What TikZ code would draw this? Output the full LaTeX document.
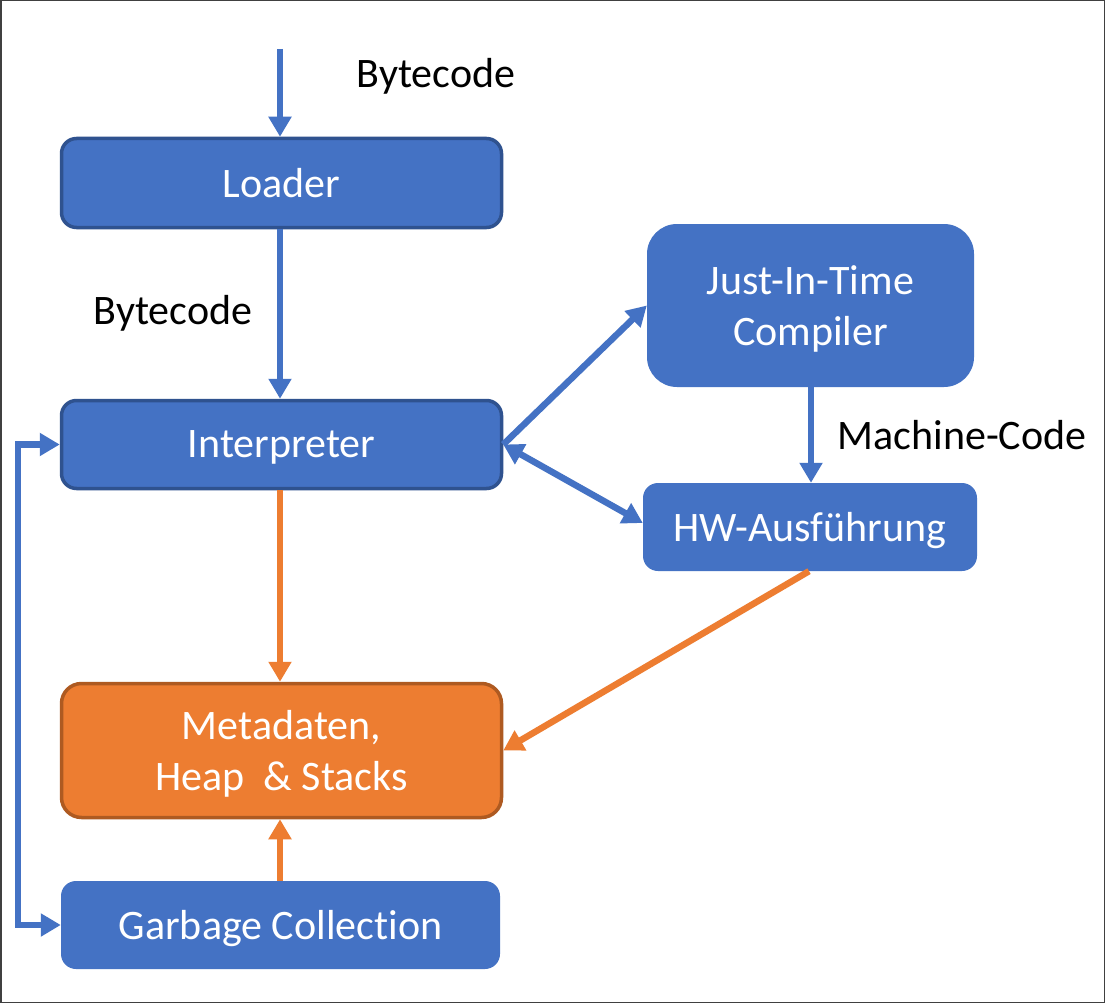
\documentclass[tikz,border=0pt]{standalone}
\usepackage{fontspec}
\setmainfont[Ligatures=NoCommon]{Carlito}
\usetikzlibrary{arrows.meta}
\definecolor{cblue}{HTML}{4472C4}
\definecolor{cblueb}{HTML}{2F528F}
\definecolor{corange}{HTML}{ED7D31}
\definecolor{coranb}{HTML}{AE5A21}
\tikzset{
  boxbase/.style={rectangle, text=white, align=center, inner sep=0pt,
    font=\fontsize{42}{51}\selectfont, text depth=0pt},
  bluebox/.style={boxbase, fill=cblue, draw=cblueb, line width=3.5pt, rounded corners=15pt},
  plainbox/.style={boxbase, fill=cblue, rounded corners=15pt},
  orangebox/.style={boxbase, fill=corange, draw=coranb, line width=3.5pt, rounded corners=20pt},
  lbl/.style={text=black, font=\fontsize{42}{51}\selectfont, inner sep=0pt, text depth=0pt},
  tip/.tip={Triangle[width=22pt,length=20pt]},
  barrow/.style={draw=cblue, line width=6.5pt, -tip},
  oarrow/.style={draw=corange, line width=6.5pt, -tip},
}
\begin{document}
\begin{tikzpicture}[x=1pt,y=-1pt]
\path[fill=white, draw=black!75, line width=1.5pt] (0.75,0.75) rectangle (1104.25,1002.25);
\useasboundingbox (0,0) rectangle (1105,1003);

\node[bluebox, minimum width=440pt, minimum height=89pt] (loader) at (281.5,183) {Loader};
\node[bluebox, minimum width=440pt, minimum height=88pt] (interp) at (281.5,444.5) {Interpreter};
\node[plainbox, rounded corners=30pt, minimum width=327pt, minimum height=163pt] (jit) at (810.5,305.5) {Just-In-Time\\Compiler};
\node[plainbox, minimum width=334pt, minimum height=88pt] (hw) at (810,527) {HW-Ausführung};
\node[orangebox, minimum width=440pt, minimum height=134pt] (meta) at (281.5,750.5) {Metadaten,\\Heap\ \ \& Stacks};
\node[plainbox, minimum width=439pt, minimum height=88pt] (gc) at (280.5,925) {Garbage Collection};

\node[lbl] (bc1) at (436,73) {Bytecode};
\node[lbl] (bc2) at (173,310) {Bytecode};
\node[lbl] (mc) at (962,435) {Machine-Code};

\coordinate (start) at (280,49);
\coordinate (lx) at (18,0);
\coordinate (ax) at (280,0);
\coordinate (bx) at (811,0);

\draw[barrow] (start) -- (start |- loader.north);
\draw[barrow] (loader.south -| ax) -- (interp.north -| ax);
\draw[barrow] (interp.east) -- (jit.west);
\draw[barrow, tip-tip] (interp.east) -- ([yshift=4pt]hw.west);
\draw[barrow] (jit.south -| bx) -- (hw.north -| bx);
\draw[oarrow] (interp.south -| ax) -- (meta.north -| ax);
\draw[oarrow] ([xshift=-1pt]hw.south) -- (meta.east);
\draw[oarrow] (gc.north -| ax) -- (meta.south -| ax);
\draw[barrow, tip-tip] (interp.west) -- (interp.west -| lx) -- (gc.west -| lx) -- (gc.west);
\end{tikzpicture}
\end{document}
